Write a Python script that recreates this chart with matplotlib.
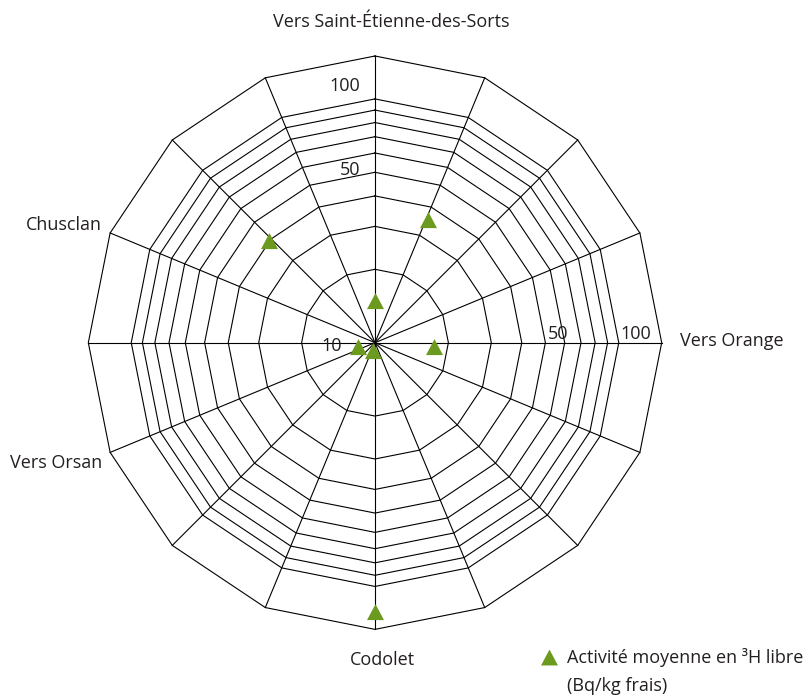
import numpy as np
import matplotlib
matplotlib.use('Agg')
import matplotlib.pyplot as plt
from matplotlib.lines import Line2D

# 16 directions, degrees clockwise from north
spoke_angles = np.arange(0, 360, 22.5)
ring_values = [20, 30, 40, 50, 60, 70, 80, 90, 100]
r_min, r_max = 10, 150

point_angles = [0, 22.5, 90, 180, 202.5, 270, 315]
point_values = [15.4, 36.6, 17.5, 123, 10.5, 11.7, 41.1]

dir_labels = ['Vers Saint-Étienne-des-Sorts', 'Vers Orange', 'Codolet', 'Vers Orsan', 'Chusclan']
dir_angles = [0, 90, 180, 247.5, 292.5]

plt.rcParams['font.family'] = ['Open Sans', 'DejaVu Sans']
green = '#6C9A1F'
ink = '#231F20'
fs = 13

fig = plt.figure(figsize=(8.11, 6.99), dpi=100)
ax = fig.add_axes([0.1089, 0.0996, 0.7070, 0.8203], projection='polar')
ax.set_theta_zero_location('N')
ax.set_theta_direction(-1)
ax.set_rscale('log')
ax.set_rlim(r_min, r_max)
ax.grid(False)
ax.set_xticks([])
ax.set_yticks([])
ax.set_yticks([], minor=True)
ax.spines['polar'].set_visible(False)
ax.patch.set_visible(False)

# polygon rings + spokes
theta_ring = np.deg2rad(np.append(spoke_angles, 0))
for v in ring_values + [r_max]:
    ax.plot(theta_ring, [v] * len(theta_ring), color='black', lw=0.8, clip_on=False)
for a in spoke_angles:
    ax.plot([np.deg2rad(a)] * 2, [r_min, r_max], color='black', lw=0.8, clip_on=False)

# triangle marker drawn a bit below its anchor, like the original
tri = [(-8.5, -11.6), (8.5, -11.6), (0, 4.4)]
ax.plot(np.deg2rad(point_angles), point_values, linestyle='none', marker=tri,
        ms=16.7, color=green, mew=0, zorder=5, clip_on=False)

# scale labels
scale_labels = [('100', 0, 100, (-15, 13), 'right'),
                ('50', 0, 50, (-15, 2), 'right'),
                ('50', 90, 50, (2, 9), 'left'),
                ('100', 90, 100, (2, 9), 'left'),
                ('10', 0, 10, (-33, -3), 'right')]
for txt, a, v, off, ha in scale_labels:
    ax.annotate(txt, xy=(np.deg2rad(a), v), xytext=off, textcoords='offset pixels',
                ha=ha, va='center', fontsize=fs, color=ink)

# direction labels
dir_offsets = [(16, 34, 'center'), (18, 2, 'left'), (7, -31, 'center'),
               (-8, -11, 'right'), (-8, 8, 'right')]
for lab, a, (dx, dy, ha) in zip(dir_labels, dir_angles, dir_offsets):
    ax.annotate(lab, xy=(np.deg2rad(a), r_max), xytext=(dx, dy), textcoords='offset pixels',
                ha=ha, va='center', fontsize=fs, color=ink, annotation_clip=False)

# legend, handle centred on the first line
tri_leg = [(-8.5, -8), (8.5, -8), (0, 8)]
handles = [Line2D([], [], linestyle='none', marker=tri_leg, ms=12.2, color=green, mew=0),
           Line2D([], [], linestyle='none')]
fig.legend(handles, ['Activité moyenne en ³H libre', '(Bq/kg frais)'],
           loc='upper left', bbox_to_anchor=(530.5 / 811, 1 - 639 / 699),
           frameon=False, borderpad=0, handlelength=1.0, handletextpad=0.53,
           labelspacing=0.54, fontsize=fs, labelcolor=ink)

fig.savefig('out.png', dpi=100)
